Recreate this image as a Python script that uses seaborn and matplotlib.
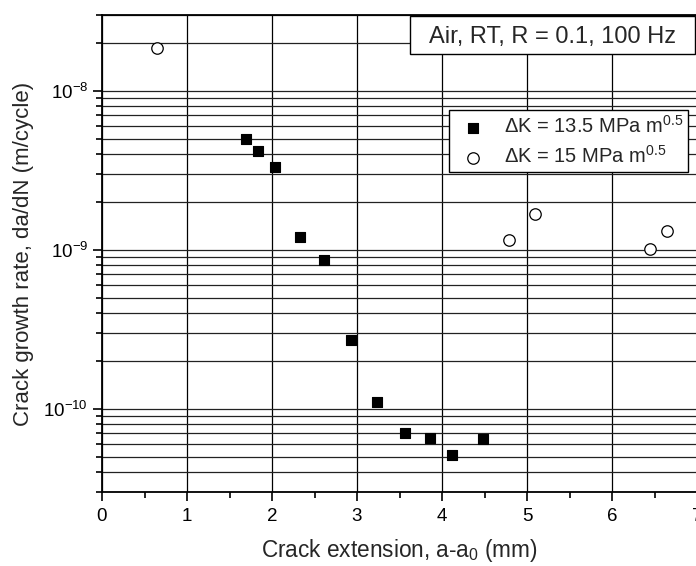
import numpy as np
import pandas as pd
import matplotlib
matplotlib.use('Agg')
import matplotlib.pyplot as plt
import seaborn as sns
from matplotlib.patches import Rectangle
from matplotlib.ticker import LogLocator, MultipleLocator, NullFormatter

# data
x_135 = [1.69, 1.83, 2.03, 2.33, 2.61, 2.93, 3.24, 3.56, 3.86, 4.12, 4.48]
y_135 = [5.0e-9, 4.2e-9, 3.3e-9, 1.2e-9, 8.6e-10, 2.7e-10, 1.1e-10,
         7.1e-11, 6.6e-11, 5.1e-11, 6.5e-11]
x_15 = [0.65, 4.79, 5.09, 6.45, 6.65]
y_15 = [1.87e-8, 1.16e-9, 1.68e-9, 1.01e-9, 1.32e-9]

label_135 = 'ΔK = 13.5 MPa m$^{0.5}$'
label_15 = 'ΔK = 15 MPa m$^{0.5}$'
condition = 'Air, RT, R = 0.1, 100 Hz'

sns.set_style('ticks')
plt.rcParams['font.family'] = ['Liberation Sans', 'DejaVu Sans']
plt.rcParams['mathtext.fontset'] = 'custom'
plt.rcParams['mathtext.rm'] = 'Liberation Sans'
plt.rcParams['mathtext.it'] = 'Liberation Sans'
plt.rcParams['mathtext.default'] = 'regular'

fig = plt.figure(figsize=(6.96, 5.66), dpi=100)
ax = fig.add_axes([102 / 696, 74 / 566, 595 / 696, 477 / 566])

df1 = pd.DataFrame({'x': x_135, 'y': y_135})
df2 = pd.DataFrame({'x': x_15, 'y': y_15})

sns.scatterplot(data=df1, x='x', y='y', ax=ax, marker='s', s=55,
                color='black', edgecolor='black', linewidth=0.8,
                label=label_135, zorder=3)
sns.scatterplot(data=df2, x='x', y='y', ax=ax, marker='o', s=68,
                facecolor='white', edgecolor='black', linewidth=0.9,
                label=label_15, zorder=3)

ax.set_yscale('log')
ax.set_xlim(0, 7)
ax.set_ylim(3e-11, 3e-8)

ax.xaxis.set_major_locator(MultipleLocator(1))
ax.xaxis.set_minor_locator(MultipleLocator(0.5))
ax.yaxis.set_major_locator(LogLocator(base=10))
ax.yaxis.set_minor_locator(LogLocator(base=10, subs=np.arange(2, 10)))
ax.yaxis.set_minor_formatter(NullFormatter())

ax.grid(True, which='major', axis='x', color='black', linewidth=0.9)
ax.grid(True, which='both', axis='y', color='#222222', linewidth=0.9)
ax.set_axisbelow(True)

ax.tick_params(axis='both', which='major', direction='out', length=6.5,
               width=1.2, labelsize=13.5, color='black', labelcolor='black')
ax.tick_params(axis='x', which='major', pad=5)
ax.tick_params(axis='both', which='minor', direction='out', length=4,
               width=1.2, color='black')
for sp in ax.spines.values():
    sp.set_color('black')
    sp.set_linewidth(1.3)

ax.set_xlabel(r'Crack extension, a-a$_0$ (mm)', fontsize=16.3, labelpad=9)
ax.set_ylabel('Crack growth rate, da/dN (m/cycle)', fontsize=16, labelpad=7)

# condition box in the top right corner
ax.add_patch(Rectangle((0.5176, 0.918), 0.479, 0.08, transform=ax.transAxes,
                       facecolor='white', edgecolor='black', linewidth=1.0,
                       zorder=5))
ax.text(0.757, 0.941, condition, transform=ax.transAxes, fontsize=17,
        ha='center', va='baseline', zorder=6)

leg = ax.legend(loc='upper right', bbox_to_anchor=(0.985, 0.801),
                borderaxespad=0, fontsize=14.5, markerscale=1,
                frameon=True, fancybox=False, framealpha=1,
                edgecolor='black', handlelength=1.9, handletextpad=0.55,
                labelspacing=0.4, borderpad=0.25)
leg.get_frame().set_linewidth(1.0)

fig.savefig('out.png', dpi=100)
